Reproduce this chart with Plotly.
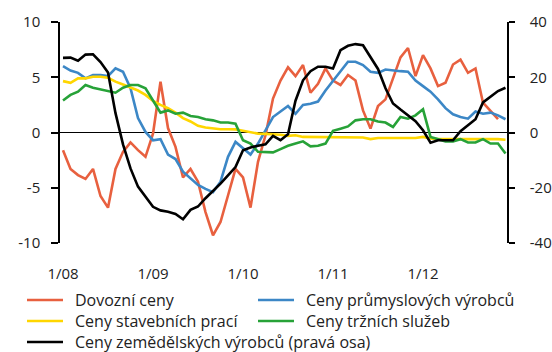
import plotly.graph_objects as go

# Monthly observations, January 2008 - December 2012 (y/y change, %)
months = list(range(60))
tick_pos = [0, 12, 24, 36, 48]
tick_labels = ["1/08", "1/09", "1/10", "1/11", "1/12"]
left_ticks = [-10, -5, 0, 5, 10]
left_labels = ["-10", "-5", "0", "5", "10"]
right_ticks = [-40, -20, 0, 20, 40]
right_labels = ["-40", "-20", "0", "20", "40"]

dovozni = [
    -1.6, -3.3, -3.85, -4.2, -3.3, -5.75, -6.8, -3.3, -1.75, -0.9,
    -1.6, -2.2, -0.1, 4.6, 0.4, -1.3, -4.07, -3.3, -4.45, -7.2,
    -9.3, -8.1, -5.7, -3.3, -4.07, -6.8, -2.65, -0.25, 3.07, 4.7,
    5.9, 5.1, 6.1, 3.6, 4.4, 5.8, 4.7, 4.3, 5.2, 4.7,
    2.0, 0.35, 2.4, 3.0, 4.9, 6.8, 7.65, 5.1, 7.0, 5.8,
    4.2, 4.5, 6.15, 6.6, 5.4, 5.8, 2.7, 1.9, 1.2, None,
]
prumysl = [
    6.0, 5.6, 5.4, 4.9, 5.2, 5.2, 5.1, 5.8, 5.5, 4.0,
    1.3, 0.05, -0.7, -0.6, -2.0, -2.4, -3.55, -4.15, -4.75, -5.1,
    -5.4, -4.45, -2.2, -0.85, -1.45, -2.0, -1.0, 0.2, 1.4, 1.9,
    2.4, 1.7, 2.5, 2.6, 2.8, 3.8, 4.7, 5.6, 6.4, 6.4,
    6.1, 5.5, 5.4, 5.7, 5.6, 5.55, 5.5, 4.7, 4.2, 3.7,
    3.0, 2.2, 1.65, 1.4, 1.25, 1.9, 1.7, 1.8, 1.55, 1.2,
]
stavebni = [
    4.65, 4.5, 4.9, 4.9, 5.05, 5.05, 4.95, 4.6, 4.35, 4.1,
    3.8, 3.4, 2.85, 2.5, 2.2, 1.8, 1.3, 1.0, 0.6, 0.45,
    0.35, 0.3, 0.3, 0.28, 0.15, 0.0, -0.1, -0.12, -0.15, -0.2,
    -0.3, -0.25, -0.4, -0.4, -0.45, -0.45, -0.4, -0.4, -0.4, -0.45,
    -0.45, -0.6, -0.5, -0.5, -0.5, -0.5, -0.5, -0.5, -0.4, -0.55,
    -0.6, -0.6, -0.55, -0.55, -0.6, -0.6, -0.55, -0.6, -0.6, -0.65,
]
trzni = [
    2.9, 3.4, 3.7, 4.3, 4.05, 3.9, 3.8, 3.6, 4.05, 4.3,
    4.3, 4.0, 2.9, 1.8, 2.0, 1.7, 1.8, 1.5, 1.4, 1.2,
    1.1, 0.9, 0.9, 0.8, -0.7, -1.0, -1.75, -1.75, -1.8, -1.5,
    -1.2, -1.0, -0.8, -1.25, -1.2, -1.0, 0.15, 0.35, 0.55, 1.1,
    1.2, 1.2, 1.0, 0.9, 0.5, 1.4, 1.25, 1.55, 2.1, -0.4,
    -0.6, -0.8, -0.8, -0.6, -0.9, -0.9, -0.6, -1.0, -1.0, -1.9,
]
zemedelske = [
    27.0, 27.1, 26.0, 28.2, 28.3, 25.5, 21.7, 7.0, -4.3, -13.0,
    -19.6, -23.2, -26.9, -28.2, -28.7, -29.5, -31.4, -28.0, -26.8, -23.8,
    -21.3, -18.5, -15.5, -12.5, -6.4, -5.4, -4.8, -4.3, -1.2, -2.8,
    -0.6, 11.5, 18.9, 22.2, 23.8, 23.8, 23.2, 29.8, 31.4, 32.0,
    31.6, 27.4, 23.0, 16.0, 10.5, 8.3, 6.3, 4.1, 0.8, -3.7,
    -2.8, -2.8, -2.8, 0.5, 2.7, 4.8, 10.9, 12.9, 15.0, 16.2,
]

FONT = "Open Sans"
TEXT = "#222222"
W, H = 552, 352
M_L, M_R, M_T, M_B = 60, 45, 22, 109
PLOT_W = W - M_L - M_R
PLOT_H = H - M_T - M_B


def px_to_paper(px, py):
    """Convert page pixels to paper coordinates of the plotting area."""
    return (px - M_L) / PLOT_W, (H - M_B - py) / PLOT_H


fig = go.Figure()

series = [
    ("Dovozní ceny", dovozni, "#e8603f", "y"),
    ("Ceny průmyslových výrobců", prumysl, "#3c87c6", "y"),
    ("Ceny stavebních prací", stavebni, "#ffd600", "y"),
    ("Ceny tržních služeb", trzni, "#27a238", "y"),
    ("Ceny zemědělských výrobců (pravá osa)", zemedelske, "#000000", "y2"),
]
for name, vals, color, axis in series:
    fig.add_trace(go.Scatter(
        x=months, y=vals, name=name, mode="lines", yaxis=axis,
        line=dict(color=color, width=2.6), connectgaps=False,
        showlegend=False,
    ))

# Legend below the chart: two columns, five entries
legend_cols = [27, 258]
legend_rows = [300, 321, 342]
sample_len = 36
text_gap = 10
for k, (name, _, color, _) in enumerate(series):
    col = legend_cols[k % 2]
    row = legend_rows[k // 2]
    x0, y0 = px_to_paper(col, row)
    x1, _ = px_to_paper(col + sample_len, row)
    xt, _ = px_to_paper(col + sample_len + text_gap, row)
    fig.add_shape(type="line", xref="paper", yref="paper",
                  x0=x0, x1=x1, y0=y0, y1=y0,
                  line=dict(color=color, width=2.6))
    fig.add_annotation(xref="paper", yref="paper", x=xt, y=y0,
                       text=name, showarrow=False,
                       xanchor="left", yanchor="middle",
                       font=dict(family=FONT, size=16, color=TEXT))

fig.update_layout(
    width=W, height=H,
    margin=dict(l=M_L, r=M_R, t=M_T, b=M_B, autoexpand=False),
    paper_bgcolor="white", plot_bgcolor="white",
    font=dict(family=FONT, size=15, color=TEXT),
    showlegend=False,
    xaxis=dict(
        range=[-0.4, 59.2], tickvals=tick_pos, ticktext=tick_labels,
        showgrid=False, zeroline=False, showline=False, ticks="",
        ticklabelstandoff=20,
    ),
    yaxis=dict(
        range=[-10, 10], tickvals=left_ticks, ticktext=left_labels,
        showgrid=False,
        zeroline=True, zerolinecolor="black", zerolinewidth=1,
        showline=True, linecolor="black", linewidth=1.5,
        ticks="outside", ticklen=7, tickwidth=1.5, tickcolor="black",
        ticklabelstandoff=8,
    ),
    yaxis2=dict(
        range=[-40, 40], tickvals=right_ticks, ticktext=right_labels,
        overlaying="y", side="right",
        showgrid=False, zeroline=False,
        showline=True, linecolor="black", linewidth=1.5,
        ticks="outside", ticklen=6, tickwidth=1.5, tickcolor="black",
        ticklabelstandoff=12,
    ),
)

fig.write_html("out.html")
